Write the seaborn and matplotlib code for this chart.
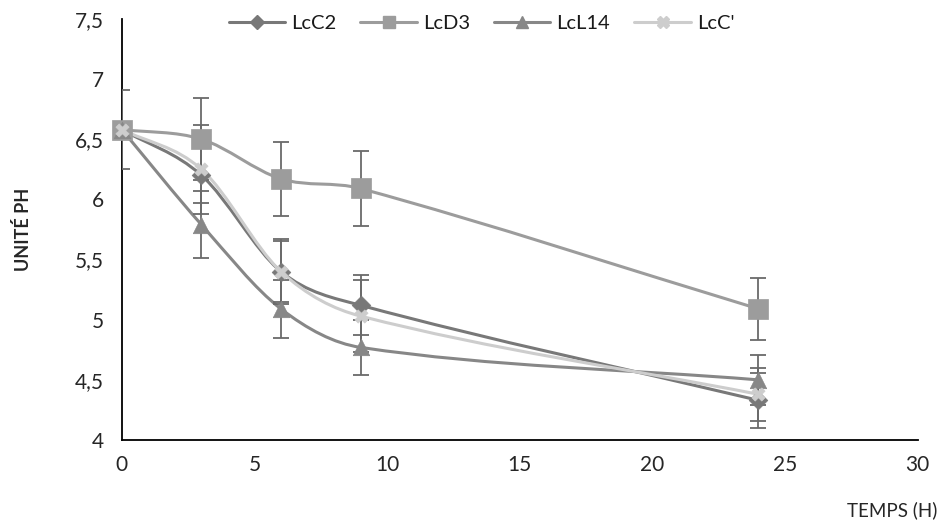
import numpy as np
import pandas as pd
import matplotlib
matplotlib.use("Agg")
import matplotlib.pyplot as plt
from matplotlib.path import Path
from matplotlib.patches import PathPatch
from matplotlib.lines import Line2D
from matplotlib.ticker import MultipleLocator, FuncFormatter
import seaborn as sns

# ---- data ----
hours = [0, 3, 6, 9, 24]
series = ["LcC2", "LcD3", "LcL14", "LcC'"]
lcc2 = [6.58, 6.20, 5.40, 5.12, 4.33]
lcd3 = [6.58, 6.50, 6.17, 6.09, 5.09]
lcl14 = [6.58, 5.79, 5.09, 4.77, 4.50]
lccp = [6.58, 6.25, 5.40, 5.03, 4.38]
err_lcc2 = [0.0, 0.23, 0.27, 0.25, 0.23]
err_lcd3 = [0.33, 0.34, 0.31, 0.31, 0.26]
err_lcl14 = [0.0, 0.28, 0.24, 0.23, 0.21]
err_lccp = [0.0, 0.37, 0.25, 0.30, 0.22]

values = [lcc2, lcd3, lcl14, lccp]
errors = [err_lcc2, err_lcd3, err_lcl14, err_lccp]

rows = []
for name, v, e in zip(series, values, errors):
    for h, y, ee in zip(hours, v, e):
        rows.append({"Temps": h, "pH": y, "err": ee, "Souche": name})
df = pd.DataFrame(rows)

sns.set_theme(style="white")
plt.rcParams["font.family"] = ["Lato", "DejaVu Sans"]

line_colors = {"LcC2": "#787878", "LcD3": "#9c9c9c", "LcL14": "#878787", "LcC'": "#cdcdcd"}
markers = {"LcC2": "D", "LcD3": "s", "LcL14": "^", "LcC'": "X"}
msizes = {"LcC2": 90, "LcD3": 190, "LcL14": 140, "LcC'": 90}

fig = plt.figure(figsize=(9.44, 5.22), dpi=100)
ax = fig.add_axes([0.129, 0.157, 0.843, 0.807])


def smooth_path(xs, ys):
    x = np.asarray(xs, float)
    y = np.asarray(ys, float)
    n = len(x)
    m = np.zeros(n)
    for i in range(n):
        if i == 0:
            m[i] = (y[1] - y[0]) / (x[1] - x[0])
        elif i == n - 1:
            m[i] = (y[-1] - y[-2]) / (x[-1] - x[-2])
        else:
            m[i] = (y[i + 1] - y[i - 1]) / (x[i + 1] - x[i - 1])
    verts = [(x[0], y[0])]
    codes = [Path.MOVETO]
    for i in range(n - 1):
        dx = x[i + 1] - x[i]
        verts += [(x[i] + dx / 3, y[i] + m[i] * dx / 3),
                  (x[i + 1] - dx / 3, y[i + 1] - m[i + 1] * dx / 3),
                  (x[i + 1], y[i + 1])]
        codes += [Path.CURVE4] * 3
    return Path(verts, codes)


for name in series:
    d = df[df["Souche"] == name]
    ax.add_patch(PathPatch(smooth_path(d["Temps"].values, d["pH"].values),
                           fill=False, edgecolor=line_colors[name], lw=2.2, zorder=2))

for name in series:
    d = df[df["Souche"] == name]
    ax.errorbar(d["Temps"], d["pH"], yerr=d["err"], fmt="none", ecolor="#6a6a6a",
                elinewidth=1.3, capsize=6, capthick=1.3, zorder=3, clip_on=True)

for name in series:
    d = df[df["Souche"] == name]
    sns.scatterplot(data=d, x="Temps", y="pH", marker=markers[name], s=msizes[name],
                    color=line_colors[name], edgecolor=line_colors[name], linewidth=0.5,
                    ax=ax, zorder=4, legend=False, clip_on=False)

ax.set_xlim(0, 30)
ax.set_ylim(4, 7.5)
ax.xaxis.set_major_locator(MultipleLocator(5))
ax.xaxis.set_minor_locator(MultipleLocator(1))
ax.yaxis.set_major_locator(MultipleLocator(0.5))
ax.yaxis.set_minor_locator(MultipleLocator(0.1))
ax.yaxis.set_major_formatter(FuncFormatter(lambda v, p: (f"{v:g}").replace(".", ",")))

for s in ["top", "right"]:
    ax.spines[s].set_visible(False)
for s in ["left", "bottom"]:
    ax.spines[s].set_color("black")
    ax.spines[s].set_linewidth(1.3)

ax.tick_params(axis="both", which="major", direction="inout", length=10, width=1.2,
               color="black", labelsize=15, labelcolor="#262626", pad=4)
ax.tick_params(axis="x", which="minor", direction="out", length=5, width=1.2, color="black")
ax.tick_params(axis="y", which="minor", direction="inout", length=6, width=1.2, color="black")
ax.tick_params(axis="x", which="major", pad=6)
ax.tick_params(axis="y", which="major", pad=8)

ax.set_xlabel("")
ax.set_ylabel("")
fig.text(0.024, 0.56, "UNITÉ PH", rotation=90, ha="center", va="center",
         fontsize=13, fontweight="bold", color="#262626")
fig.text(0.993, 0.022, "TEMPS (H)", ha="right", va="center", fontsize=13.5, color="#262626")

handles = [Line2D([0], [0], color=line_colors[n], lw=2.2, marker=markers[n],
                  markersize={"LcC2": 7, "LcD3": 9, "LcL14": 9, "LcC'": 8}[n],
                  markerfacecolor=line_colors[n], markeredgecolor=line_colors[n])
           for n in series]
fig.legend(handles, series, loc="center", bbox_to_anchor=(0.51, 0.955), ncol=4,
           frameon=False, fontsize=14.5, handlelength=2.8, columnspacing=1.2,
           handletextpad=0.3, labelcolor="#1a1a1a")

fig.savefig("out.png", dpi=100, facecolor="white")
